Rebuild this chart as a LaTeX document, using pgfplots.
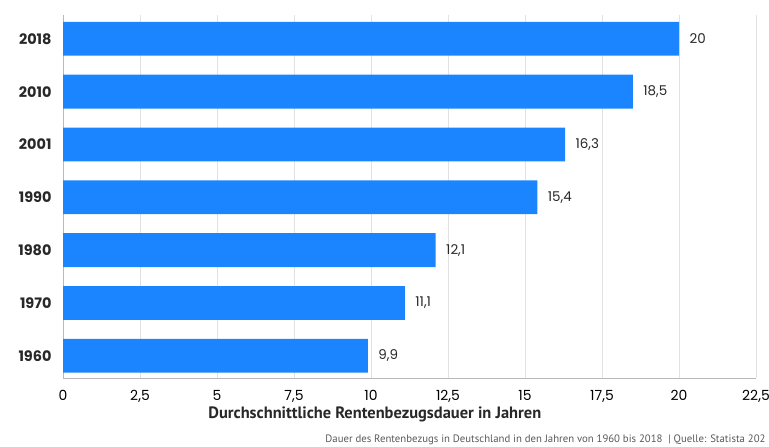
\documentclass[border=0pt]{standalone}
\usepackage{pgfplots}
\pgfplotsset{compat=1.18}
\usepackage{fontspec}
\setmainfont{Poppins}
\newfontfamily\pts{PT Sans}
\definecolor{barblue}{RGB}{27,133,255}
\definecolor{gridgray}{RGB}{226,226,226}
\definecolor{textdark}{RGB}{40,40,40}
\pgfplotstableread{
y val
0 9.9
1 11.1
2 12.1
3 15.4
4 16.3
5 18.5
6 20
}\rentendata
\begin{document}
\begin{tikzpicture}
\path[use as bounding box] (0,0) rectangle (769bp,447bp);
\begin{axis}[
  at={(63bp,69bp)}, anchor=south west,
  scale only axis, width=693bp, height=363bp,
  xmin=0, xmax=22.5, ymin=-0.42, ymax=6.45,
  xbar, bar width=0.64, bar shift=0pt,
  ytick={0,1,2,3,4,5,6},
  yticklabels={1960,1970,1980,1990,2001,2010,2018},
  xtick={0,2.5,5,7.5,10,12.5,15,17.5,20,22.5},
  /pgf/number format/use comma,
  /pgf/number format/assume math mode=true,
  axis x line*=bottom, axis y line*=left,
  axis line style={draw=gray!55, line width=0.8pt},
  major tick length=0pt,
  xmajorgrids, grid style={draw=gridgray, line width=0.6pt},
  yticklabel style={font=\bfseries\fontsize{14.5}{14.5}\selectfont, text=textdark, xshift=-8bp},
  xticklabel style={font=\fontsize{14}{14}\selectfont, text=black, yshift=-9bp},
  xlabel={Durchschnittliche Rentenbezugsdauer in Jahren},
  xlabel style={at={(axis description cs:0.45,0)}, anchor=center, yshift=-36bp,
    font=\pts\bfseries\fontsize{16.5}{16.5}\selectfont, text=textdark},
  nodes near coords,
  nodes near coords align={horizontal},
  every node near coord/.append style={font=\fontsize{13.5}{13.5}\selectfont, text=textdark, anchor=west, xshift=7bp},
  clip=false,
]
\addplot[fill=barblue, draw=none] table[x=val, y=y] {\rentendata};
\end{axis}
\node[anchor=east, font=\pts\fontsize{10.8}{10.8}\selectfont, text=gray!70!black] at (769bp,7bp)
  {Dauer des Rentenbezugs in Deutschland in den Jahren von 1960 bis 2018 \ | Quelle: Statista 202};
\end{tikzpicture}
\end{document}
